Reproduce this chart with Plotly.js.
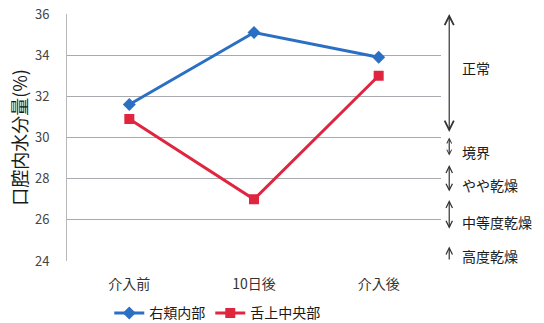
<!DOCTYPE html>
<html><head><meta charset="utf-8">
<script src="https://cdn.plot.ly/plotly-3.0.1.min.js"></script>
<style>html,body{margin:0;padding:0;background:#fff}#chart{width:544px;height:323px}</style>
</head><body><div id="chart"></div>
<script>
const categories = ['介入前', '10日後', '介入後'];
const cheekValues = [31.6, 35.1, 33.9];
const tongueValues = [30.9, 27.0, 33.0];
const seriesNames = ['右頬内部', '舌上中央部'];
const yTicks = [24, 26, 28, 30, 32, 34, 36];
// dryness zones
const zoneLabels = ['正常', '境界', 'やや乾燥', '中等度乾燥', '高度乾燥'];
const zoneFrom = [30.2, 29.05, 27.3, 25.5, 24.0];
const zoneTo = [36.0, 30.0, 28.66, 26.96, 24.7];
const zoneLabelY = [33.4, 29.3, 27.7, 25.9, 24.25];
const zoneDouble = [true, true, true, true, false];
const zoneHeadSize = [1.5, 0.8, 1.05, 1.05, 1.05];

const font = "'Noto Sans CJK JP', 'Noto Sans', sans-serif";
const traces = [
  {x: categories, y: cheekValues, name: seriesNames[0], type: 'scatter', mode: 'lines+markers',
   line: {color: '#2a6fc4', width: 3}, marker: {symbol: 'diamond', size: 10, color: '#2a6fc4'}},
  {x: categories, y: tongueValues, name: seriesNames[1], type: 'scatter', mode: 'lines+markers',
   line: {color: '#e0253f', width: 3}, marker: {symbol: 'square', size: 10, color: '#e0253f'}}
];
const annotations = [];
for (let i = 0; i < zoneLabels.length; i++) {
  const hs = zoneHeadSize[i];
  annotations.push({xref: 'paper', yref: 'y', x: 1.022, y: zoneTo[i], axref: 'pixel', ayref: 'y',
    ax: 0, ay: zoneFrom[i], text: '', showarrow: true, arrowhead: 5, startarrowhead: 5,
    arrowside: zoneDouble[i] ? 'end+start' : 'end', arrowsize: hs, startarrowsize: hs, arrowwidth: 1.2, arrowcolor: '#333'});
  annotations.push({xref: 'paper', yref: 'y', x: 1.05, y: zoneLabelY[i], xanchor: 'left', yanchor: 'middle',
    text: zoneLabels[i], showarrow: false, font: {family: font, size: 14, color: '#1a1a1a'}});
}
const layout = {
  width: 544, height: 323,
  margin: {l: 67, r: 103, t: 14, b: 62},
  paper_bgcolor: '#fff', plot_bgcolor: '#fff',
  font: {family: font, color: '#333'},
  showlegend: true,
  legend: {orientation: 'h', xref: 'paper', x: 0.113, xanchor: 'left', yref: 'container', y: 0.03, yanchor: 'middle',
    font: {family: font, size: 14, color: '#1a1a1a'}, tracegroupgap: 0},
  xaxis: {type: 'category', range: [-0.5, 2.5], showgrid: false, zeroline: false, showline: false,
    ticks: 'outside', ticklen: 10, tickcolor: 'rgba(0,0,0,0)', automargin: false,
    tickfont: {family: font, size: 14, color: '#333'}, fixedrange: true},
  yaxis: {range: [24, 36], tickvals: yTicks, showgrid: true, gridcolor: '#a9a9b0', gridwidth: 1,
    zeroline: false, showline: true, linecolor: '#b8b8b8', automargin: false,
    ticks: 'outside', ticklen: 14, tickcolor: 'rgba(0,0,0,0)',
    tickfont: {family: font, size: 13, color: '#444'},
    title: {text: '口腔内水分量(%)', font: {family: font, size: 18, color: '#1a1a1a'}, standoff: 2}},
  annotations: annotations
};
Plotly.newPlot('chart', traces, layout, {displayModeBar: false, staticPlot: true});
</script></body></html>
